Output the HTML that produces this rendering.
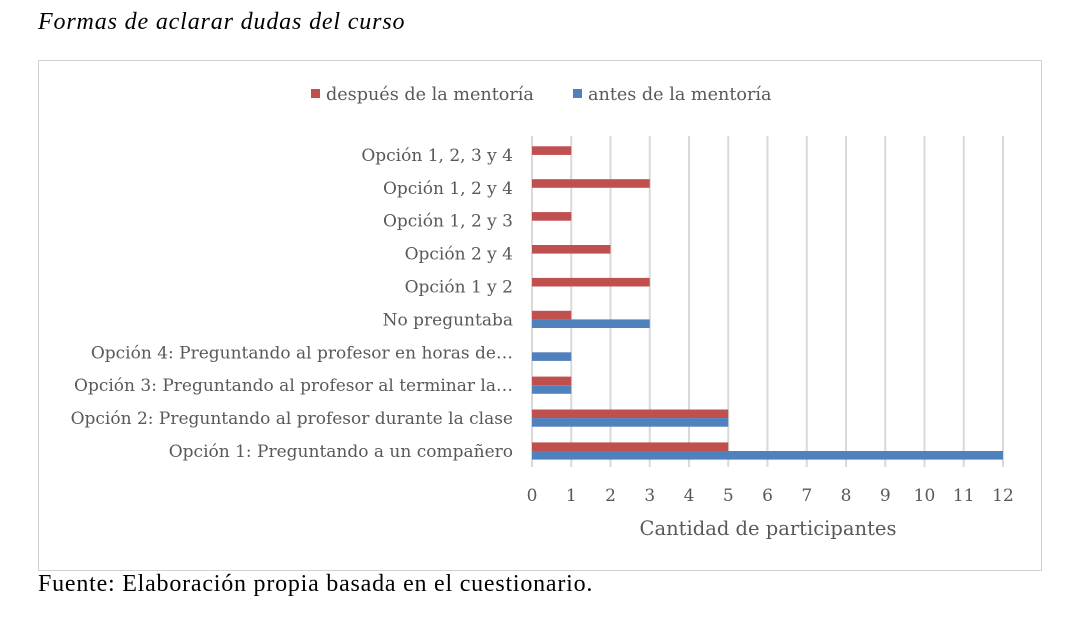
<!DOCTYPE html>
<html><head><meta charset="utf-8"><style>
body{margin:0;background:#fff;width:1068px;height:618px;overflow:hidden;position:relative;font-family:"Liberation Serif",serif}
.t{position:absolute;white-space:nowrap}
</style></head><body>
<div class="t" style="left:38px;top:9px;font-size:24px;letter-spacing:0.85px;font-style:italic">Formas de aclarar dudas del curso</div>
<div style="position:absolute;left:38px;top:60px;width:1002px;height:509px;border:1px solid #d0d0d0"></div>
<div class="t" style="left:38px;top:571px;font-size:24px;letter-spacing:0.78px">Fuente: Elaboración propia basada en el cuestionario.</div>
<svg id="c" width="1068" height="618" style="position:absolute;left:0;top:0"></svg>
<script>
const categories=["Opción 1, 2, 3 y 4","Opción 1, 2 y 4","Opción 1, 2 y 3","Opción 2 y 4","Opción 1 y 2","No preguntaba","Opción 4: Preguntando al profesor en horas de…","Opción 3: Preguntando al profesor al terminar la…","Opción 2: Preguntando al profesor durante la clase","Opción 1: Preguntando a un compañero"];
const despues=[1,3,1,2,3,1,0,1,5,5];
const antes=[0,0,0,0,0,3,1,1,5,12];
const ticks=[0,1,2,3,4,5,6,7,8,9,10,11,12];
const NS="http://www.w3.org/2000/svg",svg=document.getElementById('c');
const x0=532,pxu=39.25,yTop=451-9*32.9,step=32.9,bh=8.6;
const X=v=>x0+v*pxu, Y=i=>yTop+i*step;
function mk(t,a){const e=document.createElementNS(NS,t);for(const k in a)e.setAttribute(k,a[k]);svg.appendChild(e);return e;}
const F='"DejaVu Serif","Liberation Serif",serif';
ticks.forEach(v=>{
 const l=mk('line',{x1:X(v),x2:X(v),y1:136,y2:467,stroke:'#d9d9d9','stroke-width':2});
 
 
 const t=mk('text',{x:X(v),y:501,'text-anchor':'middle','font-size':17,fill:'#595959','font-family':F});
 t.textContent=v;
 
 
});
categories.forEach((c,i)=>{
 const y=Y(i);
 const t=mk('text',{x:513,y:y+6,'text-anchor':'end','font-size':17,fill:'#595959','font-family':F});
 t.textContent=c;
 
 
 if(despues[i]>0){const r=mk('rect',{x:X(0),y:y-bh,width:X(despues[i])-X(0),height:bh,fill:'#c0504d'});
 
 }
 if(antes[i]>0){const r=mk('rect',{x:X(0),y:y,width:X(antes[i])-X(0),height:bh,fill:'#4f81bd'});
 
 }
});
const at=mk('text',{x:768,y:535,'text-anchor':'middle','font-size':19.5,fill:'#595959','font-family':F});
at.textContent='Cantidad de participantes';


const leg=[['después de la mentoría','#c0504d',311],['antes de la mentoría','#4f81bd',573]];
leg.forEach(l=>{
 const r=mk('rect',{x:l[2],y:89,width:9,height:9,fill:l[1]});
 
 
 const t=mk('text',{x:l[2]+15,y:100,'font-size':17.6,fill:'#595959','font-family':F});
 t.textContent=l[0];
 
 
});
</script>
</body></html>
